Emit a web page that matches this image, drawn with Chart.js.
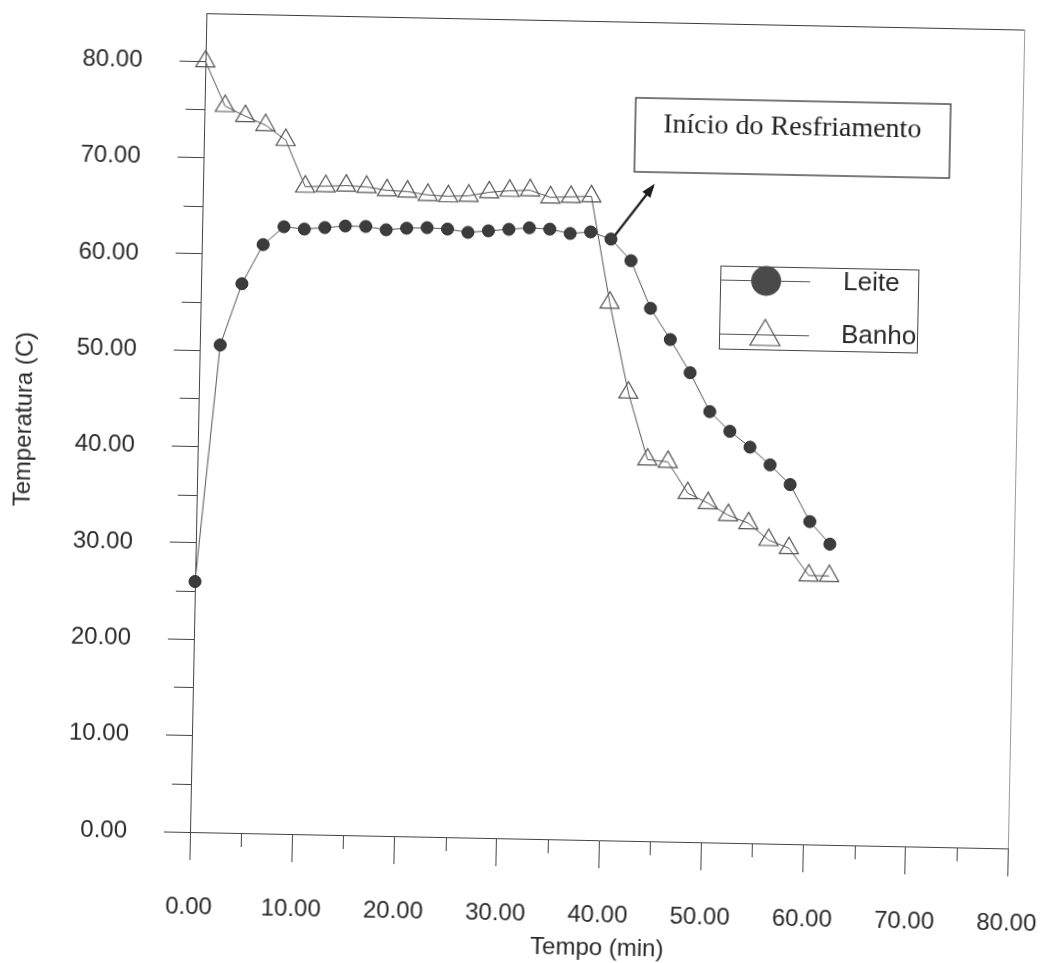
<!DOCTYPE html>
<html>
<head>
<meta charset="utf-8">
<script src="https://cdn.jsdelivr.net/npm/chart.js@4.4.1/dist/chart.umd.min.js"></script>
<style>
  html, body { margin: 0; padding: 0; background: #ffffff; overflow: hidden; }
  #c { display: block; transform: rotate(1.15deg); transform-origin: 190px 832px; }
</style>
</head>
<body>
<canvas id="c" width="1045" height="963"></canvas>
<script>
// ---- data ----
const tempo = [0, 2, 4, 6, 8, 10, 12, 14, 16, 18, 20, 22, 24, 26, 28, 30, 32, 34, 36, 38, 40, 42, 44, 46, 48, 50, 52, 54, 56, 58, 60, 62];
const leite = [26.0, 50.6, 57.0, 61.1, 63.0, 62.8, 63.0, 63.2, 63.2, 62.9, 63.1, 63.2, 63.1, 62.8, 63.0, 63.2, 63.4, 63.3, 62.9, 63.1, 62.4, 60.2, 55.3, 52.1, 48.7, 44.7, 42.7, 41.1, 39.3, 37.3, 33.5, 31.2];
const banho = [80.0, 75.4, 74.4, 73.5, 72.0, 67.2, 67.3, 67.4, 67.3, 67.0, 66.9, 66.6, 66.5, 66.6, 67.0, 67.2, 67.3, 66.6, 66.7, 66.8, 55.8, 46.5, 39.6, 39.4, 36.2, 35.2, 34.0, 33.2, 31.5, 30.7, 27.9, 27.9];
const seriesNames = ['Leite', 'Banho'];
const xMinorTicks = [5, 15, 25, 35, 45, 55, 65, 75];
const yMinorTicks = [5, 15, 25, 35, 45, 55, 65, 75];
const xTitle = 'Tempo (min)';
const yTitle = 'Temperatura (C)';
const noteText = 'Início do Resfriamento';
const noteIndex = 20; // point where cooling starts (t = 40)

const INK = '#2a2a2a';
const SANS = '"Liberation Sans", Arial, sans-serif';

const decor = {
  id: 'decor',
  beforeDatasetsDraw(chart) {
    const ctx = chart.ctx, a = chart.chartArea;
    const xs = chart.scales.x, ys = chart.scales.y;
    ctx.save();
    ctx.strokeStyle = '#444';
    ctx.lineWidth = 1;
    ctx.beginPath();
    xMinorTicks.forEach(v => {
      const px = Math.round(xs.getPixelForValue(v)) + 0.5;
      ctx.moveTo(px, a.bottom); ctx.lineTo(px, a.bottom + 14);
    });
    yMinorTicks.forEach(v => {
      const py = Math.round(ys.getPixelForValue(v)) + 0.5;
      ctx.moveTo(a.left, py); ctx.lineTo(a.left - 19, py);
    });
    ctx.stroke();
    // frame: top and right
    ctx.beginPath();
    ctx.strokeStyle = '#3a3a3a';
    ctx.moveTo(a.left, a.top + 0.5); ctx.lineTo(a.right, a.top + 0.5);
    ctx.stroke();
    ctx.beginPath();
    ctx.strokeStyle = '#9a9a9a';
    ctx.moveTo(a.right + 0.5, a.top); ctx.lineTo(a.right + 0.5, a.bottom);
    ctx.stroke();
    ctx.restore();
  },
  afterDraw(chart) {
    const ctx = chart.ctx;
    const xs = chart.scales.x, ys = chart.scales.y;
    ctx.save();
    // legend box
    ctx.strokeStyle = '#444'; ctx.lineWidth = 1;
    ctx.strokeRect(709.5, 255.5, 198, 83);
    ctx.beginPath(); ctx.strokeStyle = '#555';
    ctx.moveTo(710, 269.5); ctx.lineTo(799, 269.5);
    ctx.moveTo(710, 323.5); ctx.lineTo(799, 323.5);
    ctx.stroke();
    ctx.beginPath(); ctx.fillStyle = '#4a4a4a';
    ctx.arc(755, 269.5, 15, 0, Math.PI * 2); ctx.fill();
    ctx.beginPath(); ctx.strokeStyle = '#555'; ctx.lineWidth = 1.2;
    ctx.moveTo(755, 308); ctx.lineTo(770, 334); ctx.lineTo(740, 334); ctx.closePath();
    ctx.stroke();
    ctx.fillStyle = '#2a2a2a';
    ctx.font = '26px ' + SANS;
    ctx.textBaseline = 'middle'; ctx.textAlign = 'left';
    ctx.fillText(seriesNames[0], 832, 270);
    ctx.fillText(seriesNames[1], 831, 323);
    // annotation box
    ctx.strokeStyle = '#333'; ctx.lineWidth = 1.3;
    ctx.strokeRect(621, 89, 315, 74);
    ctx.fillStyle = '#222';
    ctx.font = '28px "Liberation Serif", "Times New Roman", serif';
    ctx.fillText(noteText, 649, 116);
    // arrow
    const sx = xs.getPixelForValue(tempo[noteIndex]) + 4;
    const sy = ys.getPixelForValue(leite[noteIndex]) - 4;
    const ex = 640, ey = 177;
    ctx.strokeStyle = '#1e1e1e'; ctx.lineWidth = 2.2;
    ctx.beginPath(); ctx.moveTo(sx, sy); ctx.lineTo(ex, ey); ctx.stroke();
    const ang = Math.atan2(ey - sy, ex - sx);
    ctx.fillStyle = '#1e1e1e';
    ctx.beginPath();
    ctx.moveTo(ex + 3 * Math.cos(ang), ey + 3 * Math.sin(ang));
    ctx.lineTo(ex - 11 * Math.cos(ang) + 5 * Math.sin(ang), ey - 11 * Math.sin(ang) - 5 * Math.cos(ang));
    ctx.lineTo(ex - 11 * Math.cos(ang) - 5 * Math.sin(ang), ey - 11 * Math.sin(ang) + 5 * Math.cos(ang));
    ctx.closePath(); ctx.fill();
    ctx.restore();
  }
};

new Chart(document.getElementById('c'), {
  type: 'line',
  data: {
    datasets: [
      {
        label: seriesNames[0],
        data: tempo.map((t, i) => ({ x: t, y: leite[i] })),
        borderColor: '#555',
        borderWidth: 1,
        pointStyle: 'circle',
        pointRadius: 6,
        pointBackgroundColor: '#3c3c3c',
        pointBorderColor: '#2a2a2a',
        pointBorderWidth: 1,
        tension: 0,
        clip: false
      },
      {
        label: seriesNames[1],
        data: tempo.map((t, i) => ({ x: t, y: banho[i] })),
        borderColor: '#555',
        borderWidth: 1,
        pointStyle: 'triangle',
        pointRadius: 11,
        pointBackgroundColor: 'rgba(255,255,255,0)',
        pointBorderColor: '#555',
        pointBorderWidth: 1.2,
        tension: 0,
        clip: false
      }
    ]
  },
  options: {
    responsive: false,
    animation: false,
    events: [],
    layout: { padding: { top: 13, right: 37, left: 0, bottom: 0 } },
    plugins: { legend: { display: false }, tooltip: { enabled: false } },
    scales: {
      x: {
        type: 'linear', position: 'bottom', min: 0, max: 80,
        afterFit: s => { s.height = 131; s.paddingLeft = 0; s.paddingRight = 0; },
        ticks: {
          stepSize: 10, autoSkip: false, maxRotation: 0, padding: 33,
          color: INK, font: { family: SANS, size: 24 },
          callback: v => Number(v).toFixed(2)
        },
        grid: { drawOnChartArea: false, drawTicks: true, tickLength: 28, color: '#444', lineWidth: 1 },
        border: { display: true, color: '#444', width: 1 },
        title: {
          display: true, text: xTitle, color: INK,
          font: { family: SANS, size: 24 },
          padding: { top: 0, bottom: 8 }
        }
      },
      y: {
        type: 'linear', position: 'left', min: 0, max: 85,
        afterFit: s => { s.width = 190; s.paddingTop = 0; s.paddingBottom = 0; },
        ticks: {
          stepSize: 10, includeBounds: false, padding: 37,
          color: INK, font: { family: SANS, size: 24 },
          callback: v => Number(v).toFixed(2)
        },
        grid: { drawOnChartArea: false, drawTicks: true, tickLength: 26, color: '#444', lineWidth: 1 },
        border: { display: true, color: '#444', width: 1 },
        title: {
          display: true, text: yTitle, color: INK,
          font: { family: SANS, size: 24 },
          padding: { top: 2, bottom: 0 }
        }
      }
    }
  },
  plugins: [decor]
});
</script>
</body>
</html>
